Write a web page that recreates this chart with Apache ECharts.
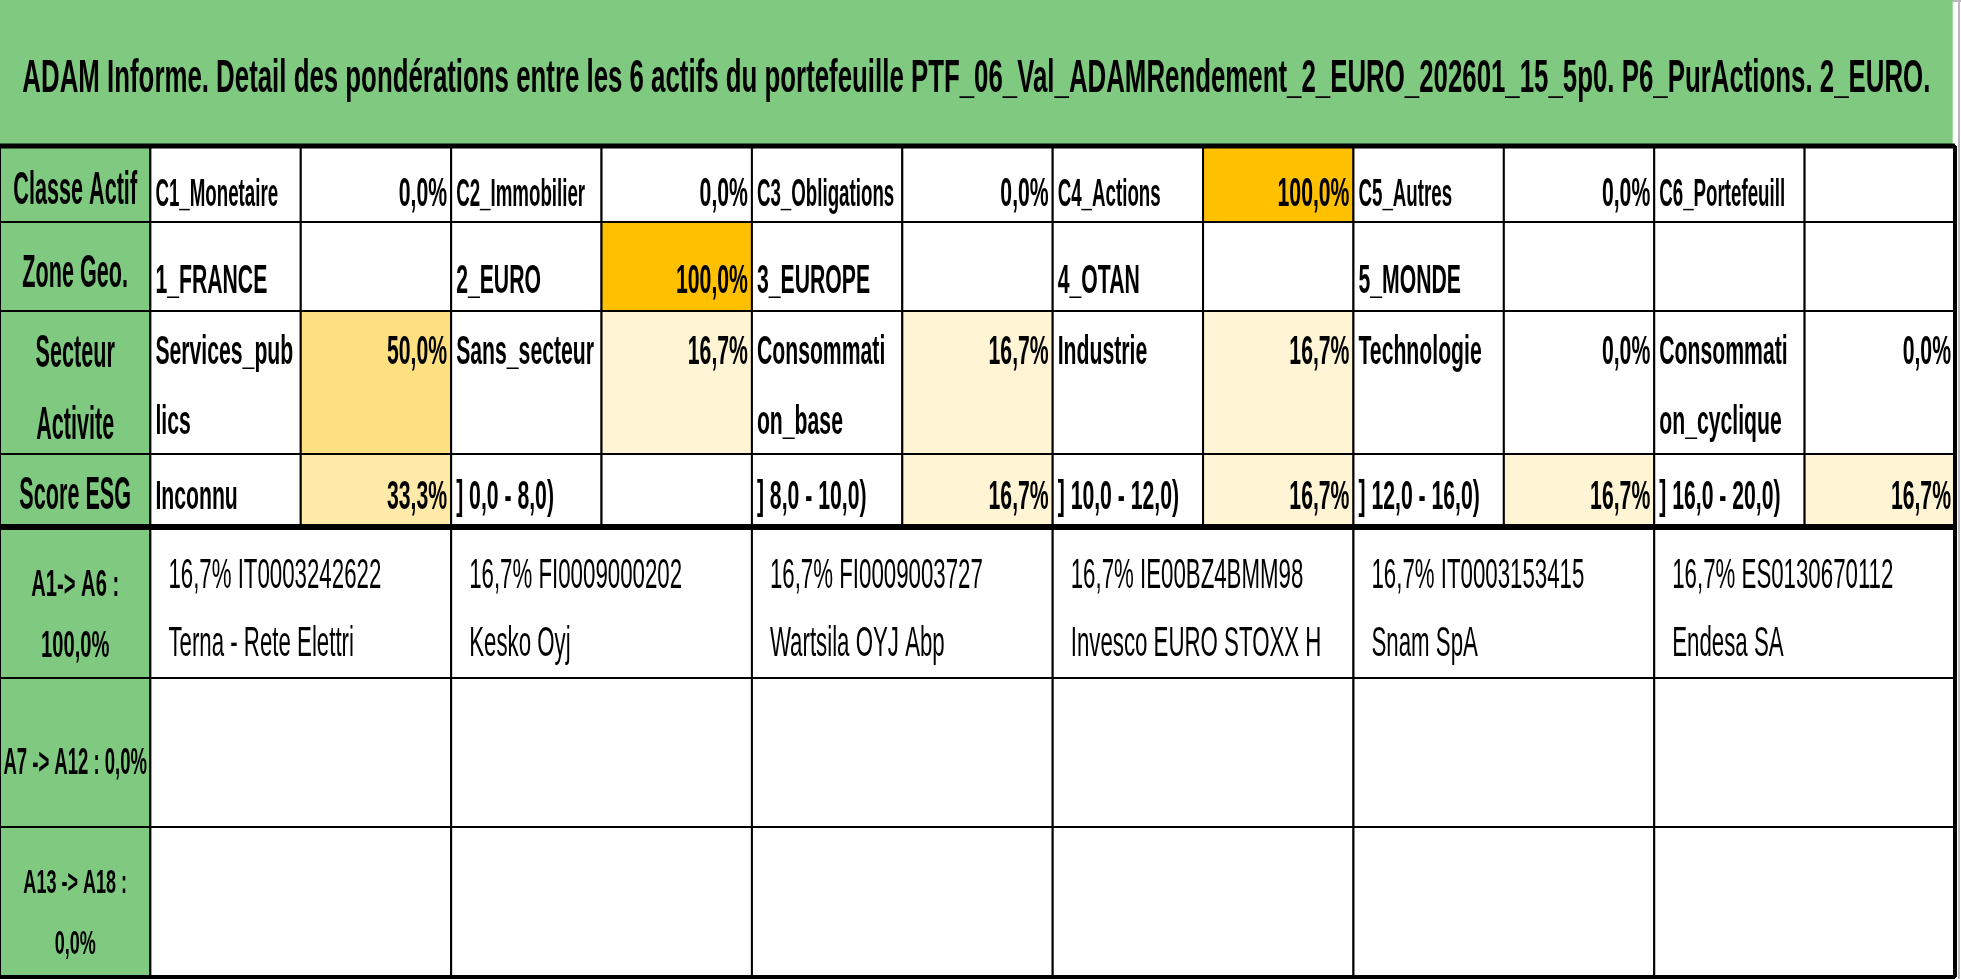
<!DOCTYPE html>
<html>
<head>
<meta charset="utf-8">
<title>ADAM Informe</title>
<script src="https://cdn.jsdelivr.net/npm/echarts@6/dist/echarts.min.js"></script>
<style>html, body { margin: 0; padding: 0; background: #fff; }</style>
</head>
<body>
<div id="chart" style="width: 1961px; height: 979px;"></div>
<script>
var title = 'ADAM Informe. Detail des pondérations entre les 6 actifs du portefeuille PTF_06_Val_ADAMRendement_2_EURO_202601_15_5p0. P6_PurActions. 2_EURO.';
var rowLabels = [['Classe Actif'], ['Zone Geo.'], ['Secteur', 'Activite'], ['Score ESG'],
                 ['A1-> A6 :', '100,0%'], ['A7 -> A12 : 0,0%'], ['A13 -> A18 :', '0,0%']];

var classeNames = ['C1_Monetaire', 'C2_Immobilier', 'C3_Obligations', 'C4_Actions', 'C5_Autres', 'C6_Portefeuill'];
var classeValues = [0, 0, 0, 100, 0, null];
var zoneNames = ['1_FRANCE', '2_EURO', '3_EUROPE', '4_OTAN', '5_MONDE', ''];
var zoneValues = [null, 100, null, null, null, null];
var secteurNames = ['Services_pub\nlics', 'Sans_secteur', 'Consommati\non_base', 'Industrie', 'Technologie', 'Consommati\non_cyclique'];
var secteurValues = [50, 16.7, 16.7, 16.7, 0, 0];
var esgNames = ['Inconnu', '] 0,0 - 8,0)', '] 8,0 - 10,0)', '] 10,0 - 12,0)', '] 12,0 - 16,0)', '] 16,0 - 20,0)'];
var esgValues = [33.3, null, 16.7, 16.7, 16.7, 16.7];

var assetWeights = [16.7, 16.7, 16.7, 16.7, 16.7, 16.7];
var assetCodes = ['IT0003242622', 'FI0009000202', 'FI0009003727', 'IE00BZ4BMM98', 'IT0003153415', 'ES0130670112'];
var assetNames = ['Terna - Rete Elettri', 'Kesko Oyj', 'Wartsila OYJ Abp', 'Invesco EURO STOXX H', 'Snam SpA', 'Endesa SA'];

// ---- layout of the sheet ----
var rowHeights = [146, 76, 89, 143, 73, 151, 149, 150];
var labelDy = [[45], [52], [43, 115], [42], [59, 120], [86], [57, 118]];
var labelSize = [46, 46, 46, 46, 36, 37, 34];
var labelSX = [0.47, 0.47, 0.47, 0.47, 0.56, 0.5, 0.53];
var cellDy = [[49], [60], [42, 112], [44]];
var nameFont = ['bold 39px ', 'bold 40px ', 'bold 40px ', 'bold 40px '];
var nameSX = [0.48, 0.53, 0.53, 0.53];
var assetDy = [49, 117];
var FONT = '"Liberation Sans", Arial, sans-serif';
var GREEN = '#80C980';
var SX = 0.53; // Excel capture is squeezed horizontally

var rowTop = [0];
rowHeights.forEach(function (h, i) { rowTop.push(rowTop[i] + h); });

function pct(v) { return v == null ? '' : v.toFixed(1).replace('.', ',') + '%'; }

// measure title so it spans the band like in the capture
var ctx = document.createElement('canvas').getContext('2d');
ctx.font = 'bold 46px ' + FONT;
var titleSX = 1908 / ctx.measureText(title).width;

var data = [];
var meta = [];
function addCell(x0, x1, r, v, m) {
  data.push([x0, x1, rowTop[r], rowTop[r + 1], v == null ? '-' : v]);
  meta.push(m);
}

// title band
addCell(0, 12.985, 0, null, { fill: GREEN, stroke: null, texts: [
  { text: title, font: 'bold 46px ' + FONT, align: 'center', dy: 79, sx: titleSX }
] });

// label column
rowLabels.forEach(function (lines, k) {
  addCell(0, 1, k + 1, null, { fill: GREEN, stroke: '#000', lw: 2, texts: lines.map(function (t, j) {
    return { text: t, font: 'bold ' + labelSize[k] + 'px ' + FONT, align: 'center', dy: labelDy[k][j], sx: labelSX[k] };
  }) });
});

// four breakdown rows: name cell + weight cell
[[classeNames, classeValues], [zoneNames, zoneValues], [secteurNames, secteurValues], [esgNames, esgValues]]
  .forEach(function (pair, k) {
    var r = k + 1;
    pair[0].forEach(function (name, c) {
      var x = 1 + 2 * c;
      addCell(x, x + 1, r, null, { fill: '#fff', stroke: '#000', lw: 2, texts: name.split('\n').map(function (t, j) {
        return { text: t, font: nameFont[k] + FONT, align: 'left', pad: 5, dy: cellDy[k][j], sx: nameSX[k] };
      }) });
      var v = pair[1][c];
      addCell(x + 1, x + 2, r, v, { heat: true, stroke: '#000', lw: 2, texts: [
        { text: pct(v), font: 'bold 40px ' + FONT, align: 'right', pad: 4, dy: cellDy[k][0] }
      ] });
    });
  });

// asset rows (merged cells)
[0, 1, 2].forEach(function (b) {
  for (var c = 0; c < 6; c++) {
    var x = 1 + 2 * c;
    var texts = [];
    if (b === 0 && assetCodes[c]) {
      texts = [
        { text: pct(assetWeights[c]) + ' ' + assetCodes[c], font: '42px ' + FONT, align: 'left', pad: 18, dy: assetDy[0] },
        { text: assetNames[c], font: '42px ' + FONT, align: 'left', pad: 18, dy: assetDy[1] }
      ];
    }
    addCell(x, x + 2, 5 + b, null, { fill: '#fff', stroke: '#000', lw: 2, texts: texts });
  }
});

// heavy rules
function addRule(x0, x1, y0, y1, lw) {
  data.push([x0, x1, y0, y1, '-']);
  meta.push({ line: true, lw: lw });
}
addRule(0, 13, rowTop[1], rowTop[1], 5);
addRule(0, 13, rowTop[5], rowTop[5], 6);
addRule(0, 13, rowTop[8], rowTop[8], 4);
addRule(13, 13, rowTop[1], rowTop[8], 4);

function renderItem(params, api) {
  var m = meta[params.dataIndex];
  var p0 = api.coord([api.value(0), api.value(2)]);
  var p1 = api.coord([api.value(1), api.value(3)]);
  if (m.line) {
    return { type: 'line', shape: { x1: p0[0], y1: p0[1], x2: p1[0], y2: p1[1] },
             style: { stroke: '#000', lineWidth: m.lw } };
  }
  var fill = m.fill;
  if (m.heat) {
    var v = api.value(4);
    fill = isNaN(v) ? '#fff' : api.visual('color');
  }
  var children = [{
    type: 'rect',
    shape: { x: p0[0], y: p0[1], width: p1[0] - p0[0], height: p1[1] - p0[1] },
    style: { fill: fill, stroke: m.stroke || null, lineWidth: m.lw || 0 }
  }];
  m.texts.forEach(function (t) {
    var x = t.align === 'left' ? p0[0] + t.pad : t.align === 'right' ? p1[0] - t.pad : (p0[0] + p1[0]) / 2;
    children.push({
      type: 'text', x: x, y: p0[1] + t.dy, scaleX: t.sx || SX,
      style: { text: t.text, font: t.font, fill: '#000', align: t.align, verticalAlign: 'middle' }
    });
  });
  return { type: 'group', children: children };
}

var chart = echarts.init(document.getElementById('chart'), null, { renderer: 'canvas' });
chart.setOption({
  animation: false,
  grid: { left: 0, top: 0, width: 1955, height: 977 },
  xAxis: { type: 'value', min: 0, max: 13, show: false },
  yAxis: { type: 'value', min: 0, max: 977, inverse: true, show: false },
  visualMap: {
    show: false, type: 'continuous', min: 0, max: 100, dimension: 4, seriesIndex: 0,
    inRange: { color: ['#FFFFFF', '#FFC000'] }
  },
  graphic: [
    { type: 'line', shape: { x1: 0, y1: 1, x2: 1961, y2: 1 }, style: { stroke: '#b8b8b8', lineWidth: 2 } },
    { type: 'line', shape: { x1: 1, y1: 0, x2: 1, y2: 146 }, style: { stroke: '#b8b8b8', lineWidth: 2 } },
    { type: 'line', shape: { x1: 1959, y1: 0, x2: 1959, y2: 979 }, style: { stroke: '#b8b8b8', lineWidth: 2 } }
  ],
  series: [{
    type: 'custom',
    coordinateSystem: 'cartesian2d',
    encode: { x: [0, 1], y: [2, 3] },
    renderItem: renderItem,
    clip: false,
    data: data
  }]
});
</script>
</body>
</html>
